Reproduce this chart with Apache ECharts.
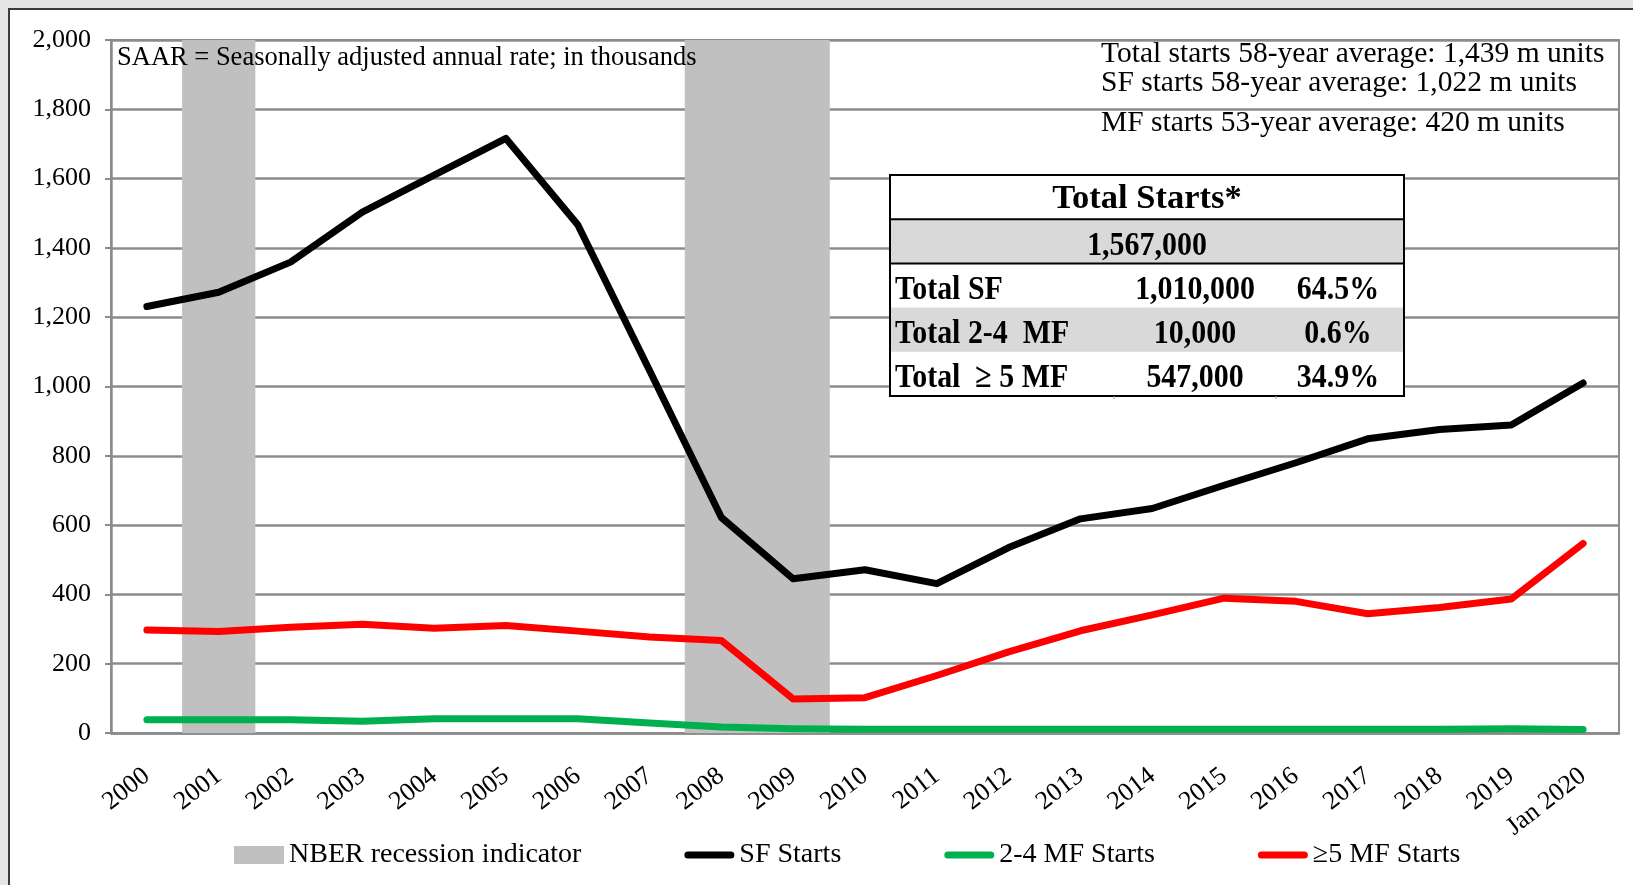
<!DOCTYPE html>
<html>
<head>
<meta charset="utf-8">
<script src="https://cdn.jsdelivr.net/npm/echarts@6/dist/echarts.min.js"></script>
<style>
  html, body { margin: 0; padding: 0; background: #e4e4e4; }
  #chart { width: 1633px; height: 885px; }
</style>
</head>
<body>
<div id="chart"></div>
<script>
// housing starts, SAAR in thousands
const years = ['2000', '2001', '2002', '2003', '2004', '2005', '2006', '2007', '2008', '2009',
  '2010', '2011', '2012', '2013', '2014', '2015', '2016', '2017', '2018', '2019', 'Jan 2020'];
const sfStarts = [1231, 1272, 1359, 1503, 1610, 1716, 1467, 1046, 622, 445,
  471, 431, 535, 618, 648, 715, 780, 849, 876, 889, 1010];
const mf24Starts = [38, 38, 38, 34, 41, 41, 41, 29, 17, 12,
  11, 11, 11, 11, 11, 11, 11, 11, 11, 12, 10];
const mf5Starts = [297, 293, 305, 314, 302, 310, 294, 277, 267, 98,
  102, 166, 234, 295, 341, 389, 380, 344, 362, 387, 547];
const recession = [0, 2000, 0, 0, 0, 0, 0, 0, 2000, 2000,
  0, 0, 0, 0, 0, 0, 0, 0, 0, 0, 0];

const yMin = 0, yMax = 2000, yStep = 200;

const notes = [
  'Total starts 58-year average: 1,439 m units',
  'SF starts 58-year average: 1,022 m units',
  'MF starts 53-year average: 420 m units'
];
const tableTitle = 'Total Starts*';
const tableTotal = '1,567,000';
const tableRows = ['Total SF', 'Total 2-4  MF', 'Total  \u2265 5 MF'];
const tableUnits = ['1,010,000', '10,000', '547,000'];
const tableShares = ['64.5%', '0.6%', '34.9%'];

const serif = '"Liberation Serif", "Times New Roman", serif';
const gridGray = '#8c8c8c';
const lineIcon = 'path://M3.5,0H46.5A3.5,3.5,0,0,1,46.5,7H3.5A3.5,3.5,0,0,1,3.5,0Z';

const chart = echarts.init(document.getElementById('chart'));

function label(x, y, text, font, align, scaleX) {
  return {
    type: 'text', x: x, y: y, z: 20, scaleX: scaleX || 1,
    style: { text: text, font: font, fill: '#000', align: align, verticalAlign: 'middle',
      textAlign: align, textVerticalAlign: 'middle' }
  };
}

// table box drawn with graphic elements
const tbX = 890, tbY = 175, tbW = 514, rowH = 44.2;
const boldFont = 'bold 34px ' + serif;
const tableEls = [
  { type: 'rect', z: 15, shape: { x: tbX, y: tbY, width: tbW, height: rowH * 5 }, style: { fill: '#fff' } },
  { type: 'rect', z: 16, shape: { x: tbX, y: tbY + rowH, width: tbW, height: rowH }, style: { fill: '#d9d9d9' } },
  { type: 'rect', z: 16, shape: { x: tbX, y: tbY + rowH * 3, width: tbW, height: rowH }, style: { fill: '#d9d9d9' } },
  { type: 'line', z: 17, shape: { x1: tbX, y1: tbY + rowH, x2: tbX + tbW, y2: tbY + rowH }, style: { stroke: '#000', lineWidth: 2 } },
  { type: 'line', z: 17, shape: { x1: tbX, y1: tbY + rowH * 2, x2: tbX + tbW, y2: tbY + rowH * 2 }, style: { stroke: '#000', lineWidth: 2 } },
  { type: 'rect', z: 17, shape: { x: tbX, y: tbY, width: tbW, height: rowH * 5 }, style: { fill: null, stroke: '#000', lineWidth: 2 } },
  { type: 'line', z: 17, shape: { x1: 1114, y1: tbY + rowH * 5, x2: 1114, y2: tbY + rowH * 5 + 3 }, style: { stroke: '#999', lineWidth: 1 } },
  { type: 'line', z: 17, shape: { x1: 1276, y1: tbY + rowH * 5, x2: 1276, y2: tbY + rowH * 5 + 3 }, style: { stroke: '#999', lineWidth: 1 } },
  label(tbX + tbW / 2, tbY + rowH * 0.55, tableTitle, 'bold 34.5px ' + serif, 'center'),
  label(tbX + tbW / 2, tbY + rowH * 1.6, tableTotal, boldFont, 'center', 0.88)
];
tableRows.forEach((name, i) => {
  const cy = tbY + rowH * (2.6 + i);
  tableEls.push(
    label(tbX + 5, cy, name, boldFont, 'left', 0.88),
    label(1195, cy, tableUnits[i], boldFont, 'center', 0.88),
    label(1338, cy, tableShares[i], boldFont, 'center', 0.88)
  );
});

const noteY = [54, 83.5, 123.5];
const noteEls = notes.map((t, i) => label(1101, noteY[i], t, '29.5px ' + serif, 'left'));

chart.setOption({
  backgroundColor: '#e4e4e4',
  animation: false,
  grid: {
    left: 111, right: 14, top: 40, bottom: 152,
    show: true, backgroundColor: '#fff', borderColor: gridGray, borderWidth: 2
  },
  legend: {
    left: 229, top: 836,
    itemWidth: 50, itemHeight: 18, itemGap: 103,
    itemStyle: { borderWidth: 0 },
    textStyle: { fontFamily: serif, fontSize: 28, color: '#000' },
    data: [
      { name: 'NBER recession indicator', icon: 'rect' },
      { name: 'SF Starts', icon: lineIcon },
      { name: '2-4 MF Starts', icon: lineIcon },
      { name: '\u22655 MF Starts', icon: lineIcon }
    ]
  },
  xAxis: {
    type: 'category',
    data: years,
    axisLine: { lineStyle: { color: gridGray, width: 2.5 } },
    axisTick: { length: 10, lineStyle: { color: gridGray, width: 2 } },
    axisLabel: { interval: 0, rotate: 38, margin: 40, fontFamily: serif, fontSize: 26, color: '#000' }
  },
  yAxis: {
    type: 'value',
    min: yMin, max: yMax, interval: yStep,
    axisLine: { show: true, lineStyle: { color: gridGray, width: 2.5 } },
    axisTick: { show: true, length: 6, lineStyle: { color: gridGray, width: 2 } },
    splitLine: { lineStyle: { color: gridGray, width: 2.5 } },
    axisLabel: {
      margin: 20, fontFamily: serif, fontSize: 26, color: '#000',
      formatter: v => v.toLocaleString('en-US')
    }
  },
  graphic: [
    { type: 'rect', z: -10, silent: true, shape: { x: 9, y: 9, width: 1700, height: 1000 },
      style: { fill: '#fff', stroke: '#3c3c3c', lineWidth: 2 } },
    label(117, 58.5, 'SAAR = Seasonally adjusted annual rate; in thousands', '26.5px ' + serif, 'left')
  ].concat(noteEls, tableEls),
  series: [
    {
      name: 'NBER recession indicator', type: 'bar', data: recession,
      barWidth: '102%', silent: true, z: 1,
      itemStyle: { color: '#c0c0c0' }
    },
    {
      name: 'SF Starts', type: 'line', data: sfStarts, symbol: 'none', z: 3,
      lineStyle: { color: '#000', width: 7, cap: 'round', join: 'round' },
      itemStyle: { color: '#000' }
    },
    {
      name: '2-4 MF Starts', type: 'line', data: mf24Starts, symbol: 'none', z: 3,
      lineStyle: { color: '#00b050', width: 7, cap: 'round', join: 'round' },
      itemStyle: { color: '#00b050' }
    },
    {
      name: '\u22655 MF Starts', type: 'line', data: mf5Starts, symbol: 'none', z: 3,
      lineStyle: { color: '#ff0000', width: 7, cap: 'round', join: 'round' },
      itemStyle: { color: '#ff0000' }
    }
  ]
});
</script>
</body>
</html>
